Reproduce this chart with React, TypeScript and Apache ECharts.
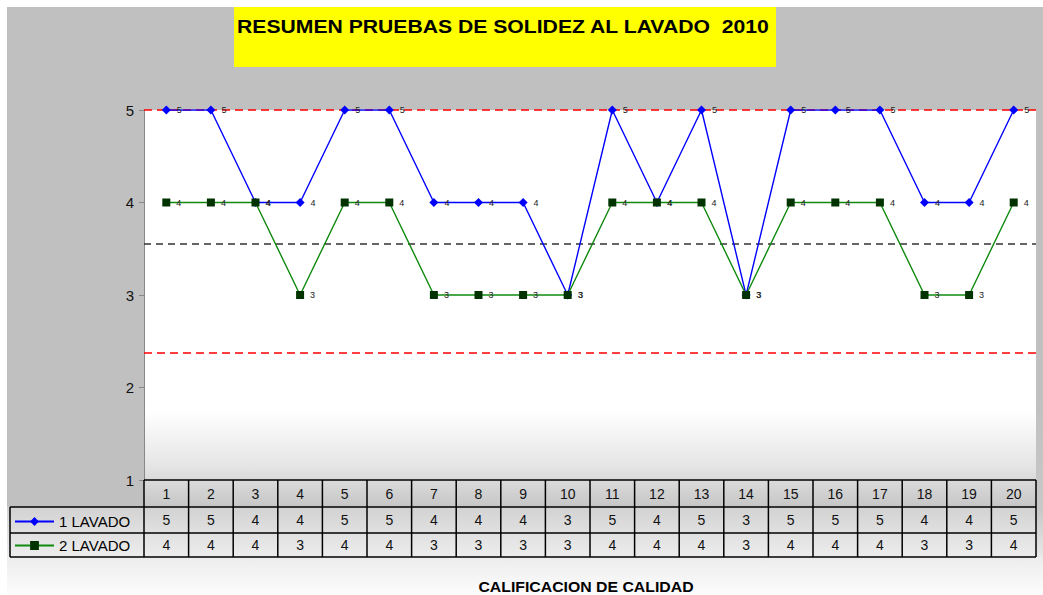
import React, { useEffect, useRef } from "react";
import * as echarts from "echarts";

const categories = ["1","2","3","4","5","6","7","8","9","10","11","12","13","14","15","16","17","18","19","20"];
const lavado1 = [5,5,4,4,5,5,4,4,4,3,5,4,5,3,5,5,5,4,4,5];
const lavado2 = [4,4,4,3,4,4,3,3,3,3,4,4,4,3,4,4,4,3,3,4];
const seriesNames = ["1 LAVADO", "2 LAVADO"];
const refUpper = 5;
const refMean = 3.55;
const refLower = 2.38;
const yMin = 1;
const yMax = 5;
const yInterval = 1;
const titleText = "RESUMEN PRUEBAS DE SOLIDEZ AL LAVADO  2010";
const xAxisTitle = "CALIFICACION DE CALIDAD";

const FONT = '"Liberation Sans", Arial, sans-serif';
const W = 1043;
const H = 595;
const GL = 144;
const GR = 1036;
const GT = 110;
const GB = 480;
const ROW1 = 507;
const ROW2 = 533;
const ROW3 = 557;

export default function App() {
  const ref = useRef<HTMLDivElement>(null);
  useEffect(() => {
    document.body.style.margin = "0";
    if (!ref.current) return;
    const chart = echarts.init(ref.current, null, { renderer: "svg" });
    const colW = (GR - GL) / categories.length;
    const lines: any[] = [];
    const ln = (x1: number, y1: number, x2: number, y2: number) =>
      lines.push({ type: "line", z: 20, shape: { x1, y1, x2, y2 }, style: { stroke: "#000", lineWidth: 1.5 } });
    ln(GL, GB, GR, GB);
    ln(10, ROW1, GR, ROW1);
    ln(10, ROW2, GR, ROW2);
    ln(10, ROW3, GR, ROW3);
    ln(10, ROW1, 10, ROW3);
    for (let i = 0; i <= categories.length; i++) {
      const x = GL + colW * i;
      ln(x, GB, x, ROW3);
    }
    const grad = (stops: [number, string][]) =>
      new echarts.graphic.LinearGradient(0, 0, 0, 1, stops.map(([offset, color]) => ({ offset, color })));

    const cellLabel = (margin: number, fmt?: (v: string, i: number) => string) => ({
      interval: 0, margin, verticalAlign: "middle", fontFamily: FONT, fontSize: 14, color: "#111",
      ...(fmt ? { formatter: fmt } : {}),
    });

    const option: any = {
      animation: false,
      grid: { left: GL, right: W - GR, top: GT, bottom: H - GB, containLabel: false },
      legend: {
        orient: "vertical",
        left: 14,
        top: 514,
        padding: 0,
        itemWidth: 39,
        itemHeight: 11,
        itemGap: 9,
        textStyle: { fontFamily: FONT, fontSize: 15, color: "#000" },
        data: seriesNames,
      },
      xAxis: [
        {
          type: "category",
          data: categories,
          boundaryGap: true,
          axisLine: { show: false },
          axisTick: { show: false },
          axisLabel: cellLabel(14),
        },
        {
          type: "category",
          data: categories,
          position: "bottom",
          axisLine: { show: false },
          axisTick: { show: false },
          axisLabel: cellLabel(40, (_v, i) => String(lavado1[i])),
        },
        {
          type: "category",
          data: categories,
          position: "bottom",
          axisLine: { show: false },
          axisTick: { show: false },
          axisLabel: cellLabel(65, (_v, i) => String(lavado2[i])),
        },
      ],
      yAxis: {
        type: "value",
        min: yMin,
        max: yMax,
        interval: yInterval,
        axisLine: { show: true, lineStyle: { color: "#888", width: 1 } },
        axisTick: { show: true, length: 5, lineStyle: { color: "#888" } },
        splitLine: { show: false },
        axisLabel: { margin: 10, fontFamily: FONT, fontSize: 15, color: "#111" },
      },
      series: [
        {
          name: seriesNames[0],
          type: "line",
          data: lavado1,
          symbol: "diamond",
          symbolSize: 9,
          z: 4,
          lineStyle: { color: "#0000ff", width: 1.4 },
          itemStyle: { color: "#0000ff" },
          label: { show: true, position: "right", distance: 6, fontFamily: FONT, fontSize: 9, color: "#222" },
          markLine: {
            silent: true,
            symbol: ["none", "none"],
            label: { show: false },
            z: 3,
            data: [
              { yAxis: refUpper, lineStyle: { color: "#ff0000", type: [8, 5], width: 1.5 } },
              { yAxis: refLower, lineStyle: { color: "#ff0000", type: [8, 5], width: 1.5 } },
              { yAxis: refMean, lineStyle: { color: "#333", type: [7, 5], width: 1.5 } },
            ],
          },
        },
        {
          name: seriesNames[1],
          type: "line",
          data: lavado2,
          symbol: "rect",
          symbolSize: 8,
          z: 5,
          lineStyle: { color: "#0f8a0f", width: 1.4 },
          itemStyle: { color: "#003300" },
          label: { show: true, position: "right", distance: 6, fontFamily: FONT, fontSize: 9, color: "#222" },
        },
      ],
      graphic: [
        { type: "rect", z: -100, silent: true, shape: { x: 7, y: 7, width: W - 7, height: ROW1 - 7 }, style: { fill: "#c0c0c0" } },
        { type: "rect", z: -99, silent: true, shape: { x: 7, y: ROW1, width: W - 7, height: H - ROW1 },
          style: { fill: grad([[0, "#d2d2d2"], [0.55, "#ececec"], [1, "#fcfcfc"]]) } },
        { type: "rect", z: -98, silent: true, shape: { x: GR, y: 400, width: W - GR, height: ROW3 - 400 },
          style: { fill: grad([[0, "#c0c0c0"], [0.7, "#c8c8c8"], [1, "#e8e8e8"]]) } },
        { type: "rect", z: -97, silent: true, shape: { x: GL, y: GT, width: GR - GL, height: ROW1 - GT },
          style: { fill: grad([[0, "#ffffff"], [0.76, "#ffffff"], [0.9, "#e4e4e4"], [1, "#c6c6c6"]]) } },
        { type: "rect", z: 30, shape: { x: 234, y: 7, width: 542, height: 60 }, style: { fill: "#ffff00" } },
        { type: "text", z: 31, x: 237, y: 18, scaleX: 1.21,
          style: { x: 0, y: 0, text: titleText, font: `bold 17.5px ${FONT}`, fill: "#000", verticalAlign: "top" } },
        { type: "text", z: 31, x: 586, y: 587, scaleX: 1.13,
          style: { x: 0, y: 0, text: xAxisTitle, font: `bold 14px ${FONT}`, fill: "#000", align: "center", verticalAlign: "middle" } },
        ...lines,
      ],
    };
    chart.setOption(option);
    return () => chart.dispose();
  }, []);
  return <div ref={ref} style={{ width: W, height: H }} />;
}
